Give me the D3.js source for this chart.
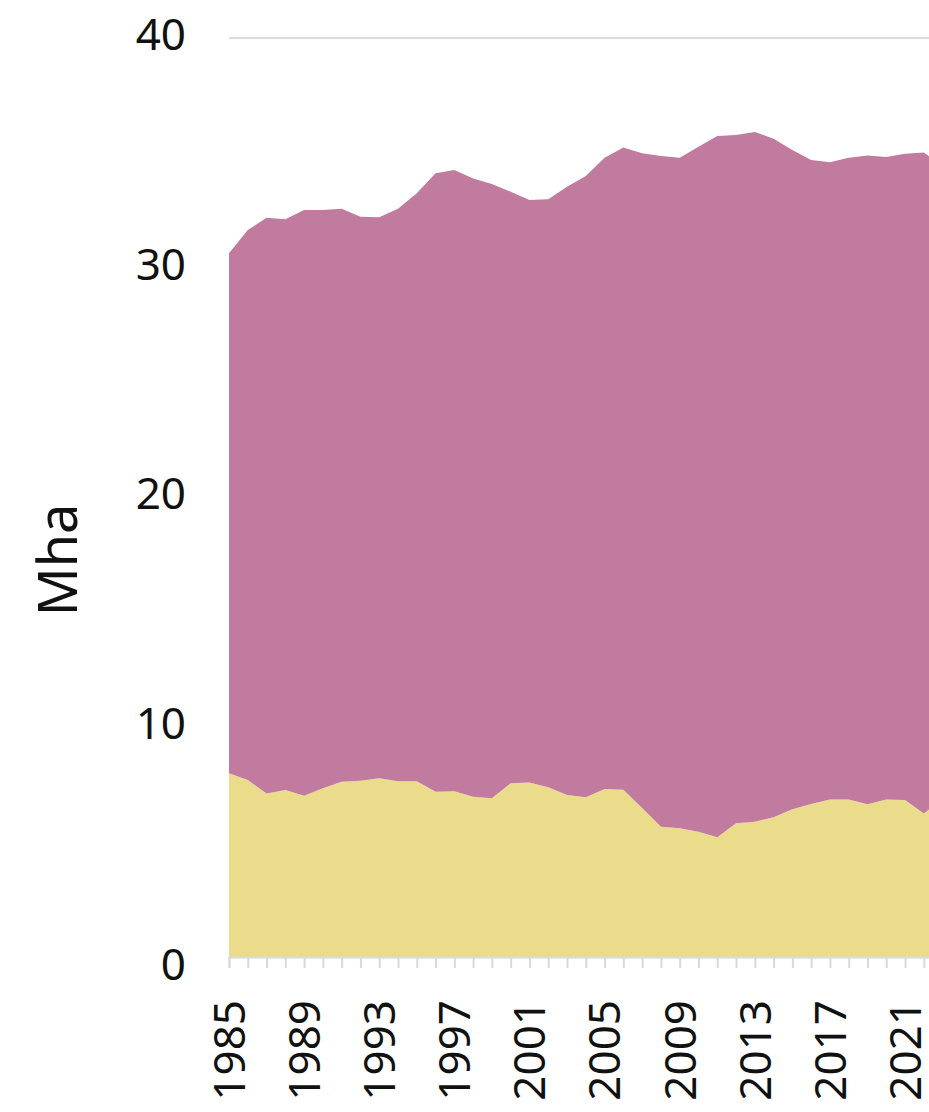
<!DOCTYPE html>
<html>
<head>
<meta charset="utf-8">
<script src="https://cdn.jsdelivr.net/npm/d3@7"></script>
<style>
  body { margin: 0; background: #fff; }
  svg { display: block; font-family: "Noto Sans", sans-serif; }
</style>
</head>
<body>
<script>
const years = d3.range(1985, 2024);
// bottom layer (yellow)
const lowerSeries = [8.00, 7.70, 7.12, 7.27, 7.02, 7.34, 7.63, 7.67, 7.78, 7.65,
  7.65, 7.19, 7.21, 6.98, 6.91, 7.56, 7.60, 7.39, 7.05, 6.95,
  7.31, 7.28, 6.49, 5.67, 5.60, 5.45, 5.21, 5.82, 5.89, 6.08,
  6.43, 6.66, 6.86, 6.86, 6.65, 6.86, 6.83, 6.25, 6.85];
// top layer (purple)
const upperSeries = [22.63, 23.94, 25.06, 24.84, 25.49, 25.17, 24.94, 24.55, 24.42, 24.92,
  25.59, 26.92, 27.04, 26.91, 26.74, 25.75, 25.35, 25.59, 26.48, 27.04,
  27.48, 27.95, 28.49, 29.19, 29.19, 29.82, 30.52, 29.96, 30.02, 29.54,
  28.70, 28.03, 27.73, 27.93, 28.24, 27.96, 28.13, 28.77, 27.58];
const yTicks = [0, 10, 20, 30, 40];
const xLabels = [1985, 1989, 1993, 1997, 2001, 2005, 2009, 2013, 2017, 2021];
const colors = ["#ebdc8c", "#c17b9f"];

const width = 929;
const height = 1112;

const rows = years.map((y, i) => ({year: y, a: lowerSeries[i], b: upperSeries[i]}));
const stack = d3.stack().keys(["a", "b"]);
const layers = stack(rows);

const x = d3.scaleLinear().domain([1985, 2023]).range([229, 942.6]);
const y = d3.scaleLinear().domain([0, 40]).range([957, 38]);

const svg = d3.select("body").append("svg")
  .attr("width", width)
  .attr("height", height);

// gridlines
svg.append("g")
  .selectAll("line")
  .data(yTicks)
  .enter()
  .append("line")
  .attr("x1", 229)
  .attr("x2", width)
  .attr("y1", d => y(d))
  .attr("y2", d => y(d))
  .attr("stroke", "#dcdcdc")
  .attr("stroke-width", 2);

const area = d3.area()
  .x(d => x(d.data.year))
  .y0(d => y(d[0]))
  .y1(d => y(d[1]));

svg.append("g")
  .selectAll("path")
  .data(layers)
  .enter()
  .append("path")
  .attr("d", area)
  .attr("fill", (d, i) => colors[i]);

// y axis labels
const yAxis = d3.axisLeft(y).tickValues(yTicks).tickSize(0).tickPadding(0);
const yG = svg.append("g")
  .attr("transform", "translate(186,0)")
  .call(yAxis);
yG.select(".domain").remove();
yG.selectAll("text")
  .attr("font-size", 44)
  .attr("font-family", "Noto Sans")
  .attr("fill", "#111")
  .attr("dy", d => d == 0 ? "0.5em" : "0.26em");

// x axis - a tick every year, label every 4
const xAxis = d3.axisBottom(x).tickValues(years).tickSize(11).tickFormat(d => xLabels.includes(d) ? d : "");
const xG = svg.append("g")
  .attr("transform", "translate(0," + y(0) + ")")
  .call(xAxis);
xG.select(".domain").attr("stroke", "#d9d9d9").attr("stroke-width", 2);
xG.selectAll(".tick line").attr("stroke", "#d9d9d9").attr("stroke-width", 2);
xG.selectAll(".tick text").filter(d => !xLabels.includes(d)).remove();
xG.selectAll("text")
  .attr("font-size", 44)
  .attr("font-family", "Noto Sans")
  .attr("fill", "#111")
  .attr("text-anchor", "end")
  .attr("transform", "rotate(-90)")
  .attr("x", -43)
  .attr("y", 0)
  .attr("dy", "0.35em");

svg.append("text")
  .attr("transform", "translate(58,560) rotate(-90)")
  .attr("text-anchor", "middle")
  .attr("dy", "0.35em")
  .attr("font-size", 54)
  .attr("fill", "#111")
  .text("Mha");
</script>
</body>
</html>
